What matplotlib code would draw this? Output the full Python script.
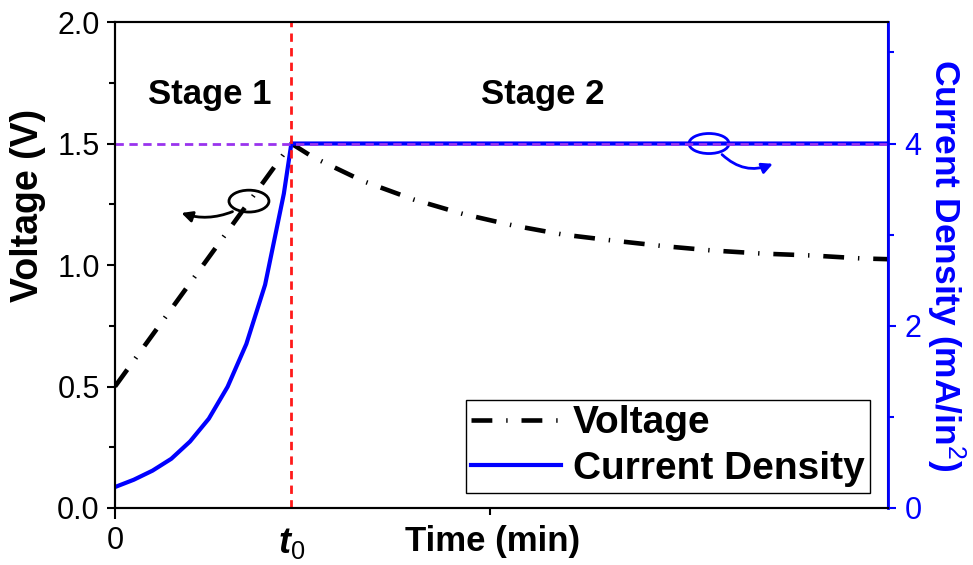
import matplotlib
matplotlib.use("Agg")
import matplotlib.pyplot as plt
from matplotlib.patches import Ellipse, FancyArrowPatch

plt.rcParams['font.family'] = ['Liberation Sans', 'DejaVu Sans']
plt.rcParams['mathtext.fontset'] = 'custom'
plt.rcParams['mathtext.rm'] = 'Liberation Sans'
plt.rcParams['mathtext.it'] = 'Liberation Sans:italic:bold'
plt.rcParams['lines.scale_dashes'] = False

# time axis (min); t0 marks the end of stage 1
t0 = 9.4
t_end = 41.2

# voltage: linear ramp in stage 1, decay in stage 2
t_volt = [0, 9.4, 10.55, 13.2, 15.9, 18.55, 21.2, 23.9, 26.5, 29.2, 31.8, 34.5, 37.2, 39.8, 41.2]
volt = [0.5, 1.5, 1.444, 1.346, 1.27, 1.21, 1.163, 1.125, 1.101, 1.078, 1.06, 1.047, 1.039, 1.027, 1.024]

# current density (mA/in^2): rising in stage 1, held constant in stage 2
t_curr = [0, 1, 2, 3, 4, 5, 6, 7, 8, 9, 9.4, 41.2]
curr = [0.23, 0.31, 0.41, 0.54, 0.73, 0.98, 1.33, 1.80, 2.45, 3.45, 4.0, 4.0]

v_hold = 1.5
j_hold = 4.0

volt_ticks = [0.0, 0.5, 1.0, 1.5, 2.0]
curr_ticks = [0, 2, 4]
stage_labels = ['Stage 1', 'Stage 2']

fig = plt.figure(figsize=(9.73, 5.65), dpi=100)
ax = fig.add_axes([0.1182, 0.1009, 0.7944, 0.8601])
ax2 = ax.twinx()

ax.set_xlim(0, t_end)
ax.set_ylim(0, 2.0)
ax2.set_ylim(0, 2.0 * j_hold / v_hold)

vline, = ax.plot(t_volt, volt, color='black', lw=3.3, dashes=(15, 10, 1, 10), label='Voltage')
jline, = ax2.plot(t_curr, curr, color='#0000ff', lw=3.0, label='Current Density')
ax2.axhline(j_hold, color='#9933ee', lw=2.0, dashes=(6, 4))
ax2.axvline(t0, color='#ff1a1a', lw=2.0, dashes=(6, 4.5))

# left axis
ax.set_yticks(volt_ticks)
ax.set_yticklabels(['%.1f' % v for v in volt_ticks])
ax.set_yticks([0.25, 0.75, 1.25, 1.75], minor=True)
ax.tick_params(axis='y', which='major', direction='out', length=6, width=1.5, labelsize=22, pad=5)
ax.tick_params(axis='y', which='minor', direction='out', length=4, width=1.5)
ax.set_ylabel('Voltage (V)', fontsize=27, fontweight='bold', va='center', ha='center')
ax.yaxis.set_label_coords(-0.113, 0.623)

# time axis
ax.set_xticks([0, t0])
ax.set_xticklabels(['0', r'$\mathit{t_0}$'])
ax.set_xticks([20], minor=True)
ax.tick_params(axis='x', which='major', direction='out', length=8, width=1.5, labelsize=22, pad=5)
ax.tick_params(axis='x', which='minor', direction='out', length=5, width=1.5)
ax.xaxis.get_major_ticks()[1].tick1line.set_visible(False)
ax.get_xticklabels()[1].set_fontsize(26)
ax.set_xlabel('Time (min)', fontsize=25, fontweight='bold')
ax.xaxis.set_label_coords(0.489, -0.036)

# right axis
ax2.set_yticks(curr_ticks)
ax2.set_yticks([1, 3, 5], minor=True)
ax2.tick_params(axis='y', which='both', colors='#0000ff', width=1.5)
ax2.tick_params(axis='y', which='major', length=6, labelsize=22, pad=6)
ax2.tick_params(axis='y', which='minor', length=4)
ax2.spines['right'].set_color('#0000ff')
ax2.set_ylabel(r'Current Density (mA/in$^2$)', fontsize=25.5, fontweight='bold',
               color='#0000ff', rotation=270, va='center', ha='center')
ax2.yaxis.set_label_coords(1.075, 0.5)

for a in (ax, ax2):
    for s in a.spines.values():
        s.set_linewidth(1.5)
ax2.spines['right'].set_linewidth(2.0)

# stage labels
ax.text(5.06, 1.70, stage_labels[0], fontsize=25, fontweight='bold', ha='center', va='center')
ax.text(22.8, 1.70, stage_labels[1], fontsize=25, fontweight='bold', ha='center', va='center')

# markers pointing each curve to its axis
ax.add_patch(Ellipse((7.14, 1.263), 2.13, 0.09, fill=False, lw=2.0, color='black'))
ax.add_patch(FancyArrowPatch((6.4, 1.224), (3.4, 1.218), arrowstyle='-|>',
                             connectionstyle='arc3,rad=-0.2', mutation_scale=16,
                             lw=2.0, color='black'))
ax2.add_patch(Ellipse((31.66, j_hold), 2.13, 0.22, fill=False, lw=2.0, color='#0000ff'))
ax2.add_patch(FancyArrowPatch((32.25, 3.9), (35.2, 3.79), arrowstyle='-|>',
                              connectionstyle='arc3,rad=0.35', mutation_scale=16,
                              lw=2.0, color='#0000ff'))

leg = ax2.legend([vline, jline], ['Voltage', 'Current Density'], loc='lower right',
                 bbox_to_anchor=(0.977, 0.031), borderaxespad=0, fancybox=False,
                 edgecolor='black', framealpha=1, handlelength=2.3, handletextpad=0.3,
                 labelspacing=0.25, borderpad=0.15, prop={'size': 28, 'weight': 'bold'})
leg.get_frame().set_linewidth(1.0)

fig.savefig('out.png', dpi=100)
